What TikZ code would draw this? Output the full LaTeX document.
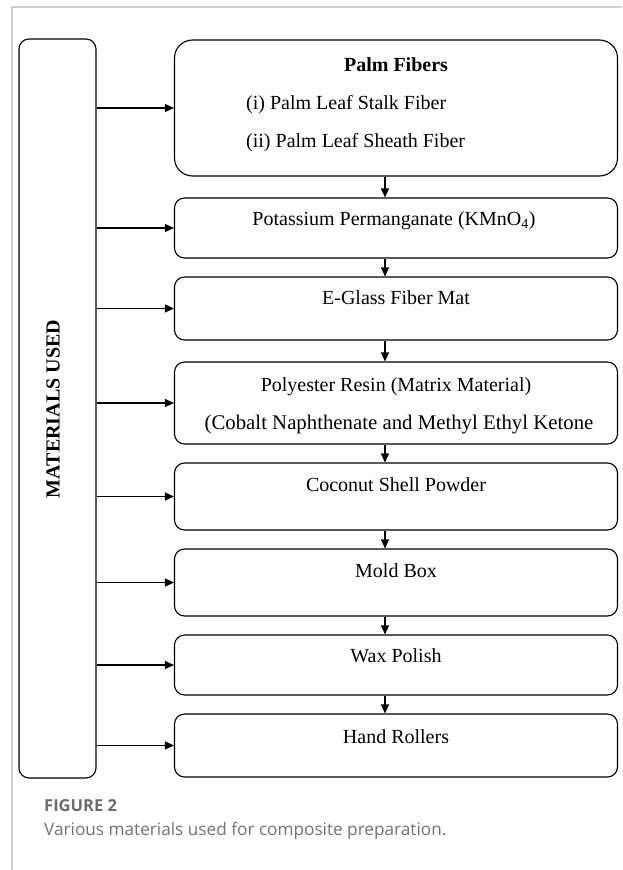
\documentclass[tikz,border=0pt]{standalone}
\usepackage{fontspec}
\setmainfont{Liberation Serif}
\newfontfamily\capfont{Open Sans}
\usetikzlibrary{arrows.meta}
\begin{document}
\begin{tikzpicture}[x=1pt,y=-1pt,
  matbox/.style={draw,line width=1.1pt,rounded corners=10pt,minimum width=443pt,inner sep=0pt},
  feed/.style={-{Triangle[length=9pt,width=8pt]},line width=1.1pt},
  txt/.style={font=\fontsize{20}{24}\selectfont,inner sep=0pt,text height=13pt,text depth=0pt}]
\useasboundingbox (0,0) rectangle (622,870);
% frame round the figure
\draw[line width=1.5pt,black!18](622,7)--(12,7)--(12,870);
% left block
\node[draw,line width=1.1pt,rounded corners=10pt,minimum width=77pt,minimum height=739pt,inner sep=0pt](mat) at (57.5,408.5){};
\node[txt,font=\bfseries\fontsize{20}{24}\selectfont,rotate=90](matt) at (53,409){MATERIALS USED};
% material boxes
\node[matbox,rounded corners=18pt,minimum height=136pt](palm) at (396,108){};
\node[txt,font=\bfseries\fontsize{20}{24}\selectfont](palmt) at (396,65){Palm Fibers};
\node[txt,anchor=west](palma) at (246,103){(i) Palm Leaf Stalk Fiber};
\node[txt,anchor=west](palmb) at (246,141){(ii) Palm Leaf Sheath Fiber};
\node[matbox,minimum height=60pt](kmno) at (396,228){};
\node[txt](kmnot) at (394,219){Potassium Permanganate (KMnO\textsubscript{4})};
\node[matbox,minimum height=63pt](glass) at (396,308.5){};
\node[txt](glasst) at (396,298){E-Glass Fiber Mat};
\node[matbox,minimum height=82pt](resin) at (396,403){};
\node[txt](resina) at (396,385){Polyester Resin (Matrix Material)};
\node[txt,font=\fontsize{20.8}{24}\selectfont](resinb) at (399,423){(Cobalt Naphthenate and Methyl Ethyl Ketone};
\node[matbox,minimum height=67pt](shell) at (396,496.5){};
\node[txt](shellt) at (396,485){Coconut Shell Powder};
\node[matbox,minimum height=67pt](mold) at (396,582.5){};
\node[txt](moldt) at (396,571){Mold Box};
\node[matbox,minimum height=60pt](wax) at (396,665){};
\node[txt](waxt) at (396,656){Wax Polish};
\node[matbox,minimum height=63pt](roll) at (396,745.5){};
\node[txt](rollt) at (396,737){Hand Rollers};
% arrows
\foreach \a/\b in {palm/kmno,kmno/glass,glass/resin,resin/shell,shell/mold,mold/wax,wax/roll}
  \draw[feed]([xshift=-11pt]\a.south)--([xshift=-11pt]\b.north);
\foreach \b in {palm,kmno,glass,resin,shell,mold,wax,roll}
  \draw[feed](mat.east|-\b.west)--(\b.west);
% caption
\node[anchor=west,inner sep=0pt,text=black!58,font=\capfont\bfseries\fontsize{16.5}{19}\selectfont](fig) at (44,806){FIGURE 2};
\node[anchor=west,inner sep=0pt,text=black!55,font=\capfont\fontsize{17.2}{20}\selectfont](cap) at (44,831){Various materials used for composite preparation.};
\end{tikzpicture}
\end{document}
